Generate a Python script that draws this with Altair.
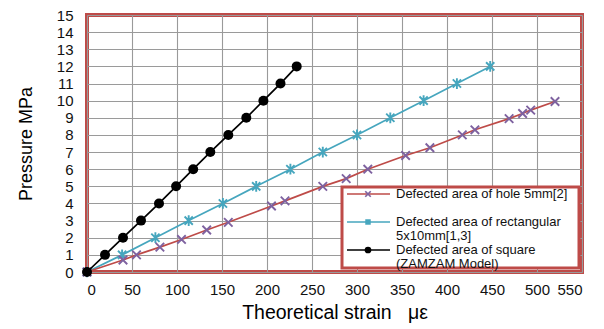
import altair as alt
import pandas as pd

# --- data ---
hole_x = [0, 40, 55, 81, 105, 133, 157, 205, 220, 262, 288, 312, 354, 381, 417, 431, 469, 484, 493, 520]
hole_y = [0, 0.7, 1.0, 1.45, 1.9, 2.45, 2.9, 3.85, 4.15, 5.0, 5.45, 6.0, 6.8, 7.25, 8.0, 8.3, 8.95, 9.25, 9.45, 9.95]

rect_x = [0, 39, 76, 113, 151, 188, 226, 262, 300, 337, 374, 411, 448]
rect_y = [0, 1, 2, 3, 4, 5, 6, 7, 8, 9, 10, 11, 12]

sq_x = [0, 20, 40, 60, 80, 99, 118, 137, 157, 177, 196, 215, 233]
sq_y = [0, 1, 2, 3, 4, 5, 6, 7, 8, 9, 10, 11, 12]

x_ticks = [0, 50, 100, 150, 200, 250, 300, 350, 400, 450, 500, 550]
y_ticks = list(range(0, 16))

legend_labels = [
    ["Defected area of hole 5mm[2]"],
    ["Defected area of rectangular", "5x10mm[1,3]"],
    ["Defected area of square", "(ZAMZAM Model)"],
]

RED = "#BE4B48"
PURPLE = "#7E62A0"
TEAL = "#46A6BE"
BLACK = "#000000"
FONT = "Liberation Sans"

X_PATH = "M-1,-1L1,1M-1,1L1,-1"
AST_PATH = "M-1,-1L1,1M-1,1L1,-1M0,-1.3L0,1.3"

hole = pd.DataFrame({"x": hole_x, "y": hole_y})
rect = pd.DataFrame({"x": rect_x, "y": rect_y})
sq = pd.DataFrame({"x": sq_x, "y": sq_y})

xs = alt.Scale(domain=[0, 550], nice=False)
ys = alt.Scale(domain=[0, 15], nice=False)

X = alt.X("x:Q", scale=xs, axis=alt.Axis(values=x_ticks, title="Theoretical strain\u00a0\u00a0\u00a0με",
                                        labelPadding=10, titlePadding=6, titleFontSize=19.5))
Y = alt.Y("y:Q", scale=ys, axis=alt.Axis(values=y_ticks, title="Pressure MPa",
                                        labelPadding=14, titlePadding=21, titleFontSize=18))


def series(df, line_color, marker_color, shape, size, filled, sw):
    base = alt.Chart(df).encode(x=X, y=Y)
    line = base.mark_line(color=line_color, strokeWidth=1.7)
    if filled:
        pts = base.mark_point(shape=shape, size=size, filled=True, color=marker_color, opacity=1)
    else:
        pts = base.mark_point(shape=shape, size=size, filled=False, color=marker_color,
                              strokeWidth=sw, opacity=1)
    return line + pts


hole_layer = series(hole, RED, PURPLE, X_PATH, 72, False, 1.9)
rect_layer = series(rect, TEAL, TEAL, AST_PATH, 68, False, 1.9)
sq_layer = series(sq, BLACK, BLACK, "circle", 100, True, 1)

# --- custom legend (pixel positions inside plot area) ---
LX0, LX1, LY0, LY1 = 255, 492, 172, 253
box = alt.Chart(pd.DataFrame({"a": [0]})).mark_rect(
    fill="white", stroke=RED, strokeWidth=3
).encode(x=alt.value(LX0), x2=alt.value(LX1), y=alt.value(LY0), y2=alt.value(LY1))

entry_y = [179, 207, 235]
entry_colors = [(RED, PURPLE, X_PATH, False), (TEAL, TEAL, "square", True), (BLACK, BLACK, "circle", True)]
legend_layers = [box]
for i, (lc, mc, shp, fil) in enumerate(entry_colors):
    ey = entry_y[i]
    one = pd.DataFrame({"a": [0]})
    legend_layers.append(
        alt.Chart(one).mark_rule(color=lc, strokeWidth=1.7).encode(
            x=alt.value(260), x2=alt.value(303), y=alt.value(ey))
    )
    if fil:
        legend_layers.append(
            alt.Chart(one).mark_point(shape=shp, filled=True, size=45 if shp == "circle" else 30,
                                      color=mc, opacity=1).encode(x=alt.value(281), y=alt.value(ey))
        )
    else:
        legend_layers.append(
            alt.Chart(one).mark_point(shape=shp, filled=False, size=30, color=mc, strokeWidth=1.7,
                                      opacity=1).encode(x=alt.value(281), y=alt.value(ey))
        )
    for j, txt in enumerate(legend_labels[i]):
        legend_layers.append(
            alt.Chart(pd.DataFrame({"t": [txt]})).mark_text(
                align="left", baseline="middle", font=FONT, fontSize=13, color="#111111"
            ).encode(x=alt.value(309), y=alt.value(ey + 14 * j), text="t:N")
        )

chart = alt.layer(rect_layer, hole_layer, sq_layer, *legend_layers).properties(
    width=495, height=257,
    autosize=alt.AutoSizeParams(type="none"),
    padding={"left": 79, "top": 7, "right": 14, "bottom": 55},
).configure_view(
    stroke=RED, strokeWidth=4
).configure_axis(
    labelFont=FONT, titleFont=FONT, labelFontSize=15,
    labelColor="#111111", titleColor="#000000", titleFontWeight="normal",
    ticks=False, domain=False, grid=True, gridColor="#9A9A9A", gridWidth=1.1,
).configure_axisY(
    titleAngle=-90
)

chart.save("out.html", embed_options={"renderer": "svg", "actions": False})
